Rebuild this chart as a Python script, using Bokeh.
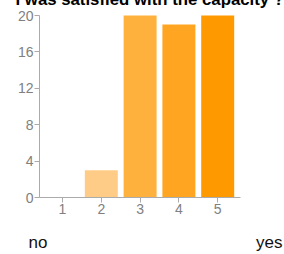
from bokeh.plotting import figure
from bokeh.models import ColumnDataSource, FixedTicker, Range1d
from bokeh.core.properties import value
from bokeh.embed import file_html
from bokeh.resources import INLINE

# data
categories = [1, 2, 3, 4, 5]
counts = [0, 3, 20, 19, 20]
bar_colors = ["#FFE0B2", "#FFCC88", "#FFB13D", "#FFA522", "#FF9900"]
y_ticks = [0, 4, 8, 12, 16, 20]
title_text = "I was satisfied with the capacity ?"
low_label = "no"
high_label = "yes"

FONT = "Liberation Sans"

# layout constants (pixels per data unit on the canvas)
PX_X = 38.8
PX_Y = 9.1
W, H = 276, 266
CX1 = 54      # canvas x of category 1
CY0 = 209     # canvas y of value 0


def dx(cx):
    return 1 + (cx - CX1) / PX_X


def dy(cy):
    return (CY0 - cy) / PX_Y


src = ColumnDataSource(dict(x=categories, top=counts, color=bar_colors))

p = figure(width=W, height=H, output_backend="svg", toolbar_location=None,
           x_range=Range1d(dx(0), dx(W)), y_range=Range1d(dy(H), dy(0)),
           min_border_left=0, min_border_right=0, min_border_top=0, min_border_bottom=0)
p.title.visible = False
p.styles = {"margin-top": "-12px", "margin-left": "8px"}

p.vbar(x="x", top="top", bottom=0, width=0.85, color="color", line_color=None, source=src)

p.outline_line_color = None
p.xgrid.grid_line_color = None
p.ygrid.grid_line_color = None
p.background_fill_color = "white"
p.border_fill_color = "white"

x_left = dx(31)
x_right = dx(232)

for ax in (p.xaxis[0], p.yaxis[0]):
    ax.axis_line_color = "#ABABAB"
    ax.major_tick_line_color = "#ABABAB"
    ax.minor_tick_line_color = None
    ax.major_tick_in = 0
    ax.major_tick_out = 5
    ax.major_label_text_font = FONT
    ax.major_label_text_font_size = "14px"
    ax.major_label_text_color = "#808080"
    ax.major_label_standoff = 1

p.xaxis.ticker = FixedTicker(ticks=categories)
p.yaxis.ticker = FixedTicker(ticks=y_ticks)
p.xaxis.fixed_location = 0
p.xaxis.bounds = (x_left, x_right)
p.yaxis.fixed_location = x_left
p.yaxis.bounds = (0, 20)

p.text(x=[dx(7)], y=[dy(11)], text=[title_text], text_font=value(FONT),
       text_font_size="16.8px", text_font_style="bold", text_color="#000000",
       text_baseline="alphabetic", text_align="left")
p.text(x=[dx(20)], y=[dy(254)], text=[low_label], text_font=value(FONT),
       text_font_size="17px", text_color="#111111",
       text_baseline="alphabetic", text_align="left")
p.text(x=[dx(274)], y=[dy(254)], text=[high_label], text_font=value(FONT),
       text_font_size="17px", text_color="#111111",
       text_baseline="alphabetic", text_align="right")

open("out.html", "w").write(file_html(p, INLINE))
